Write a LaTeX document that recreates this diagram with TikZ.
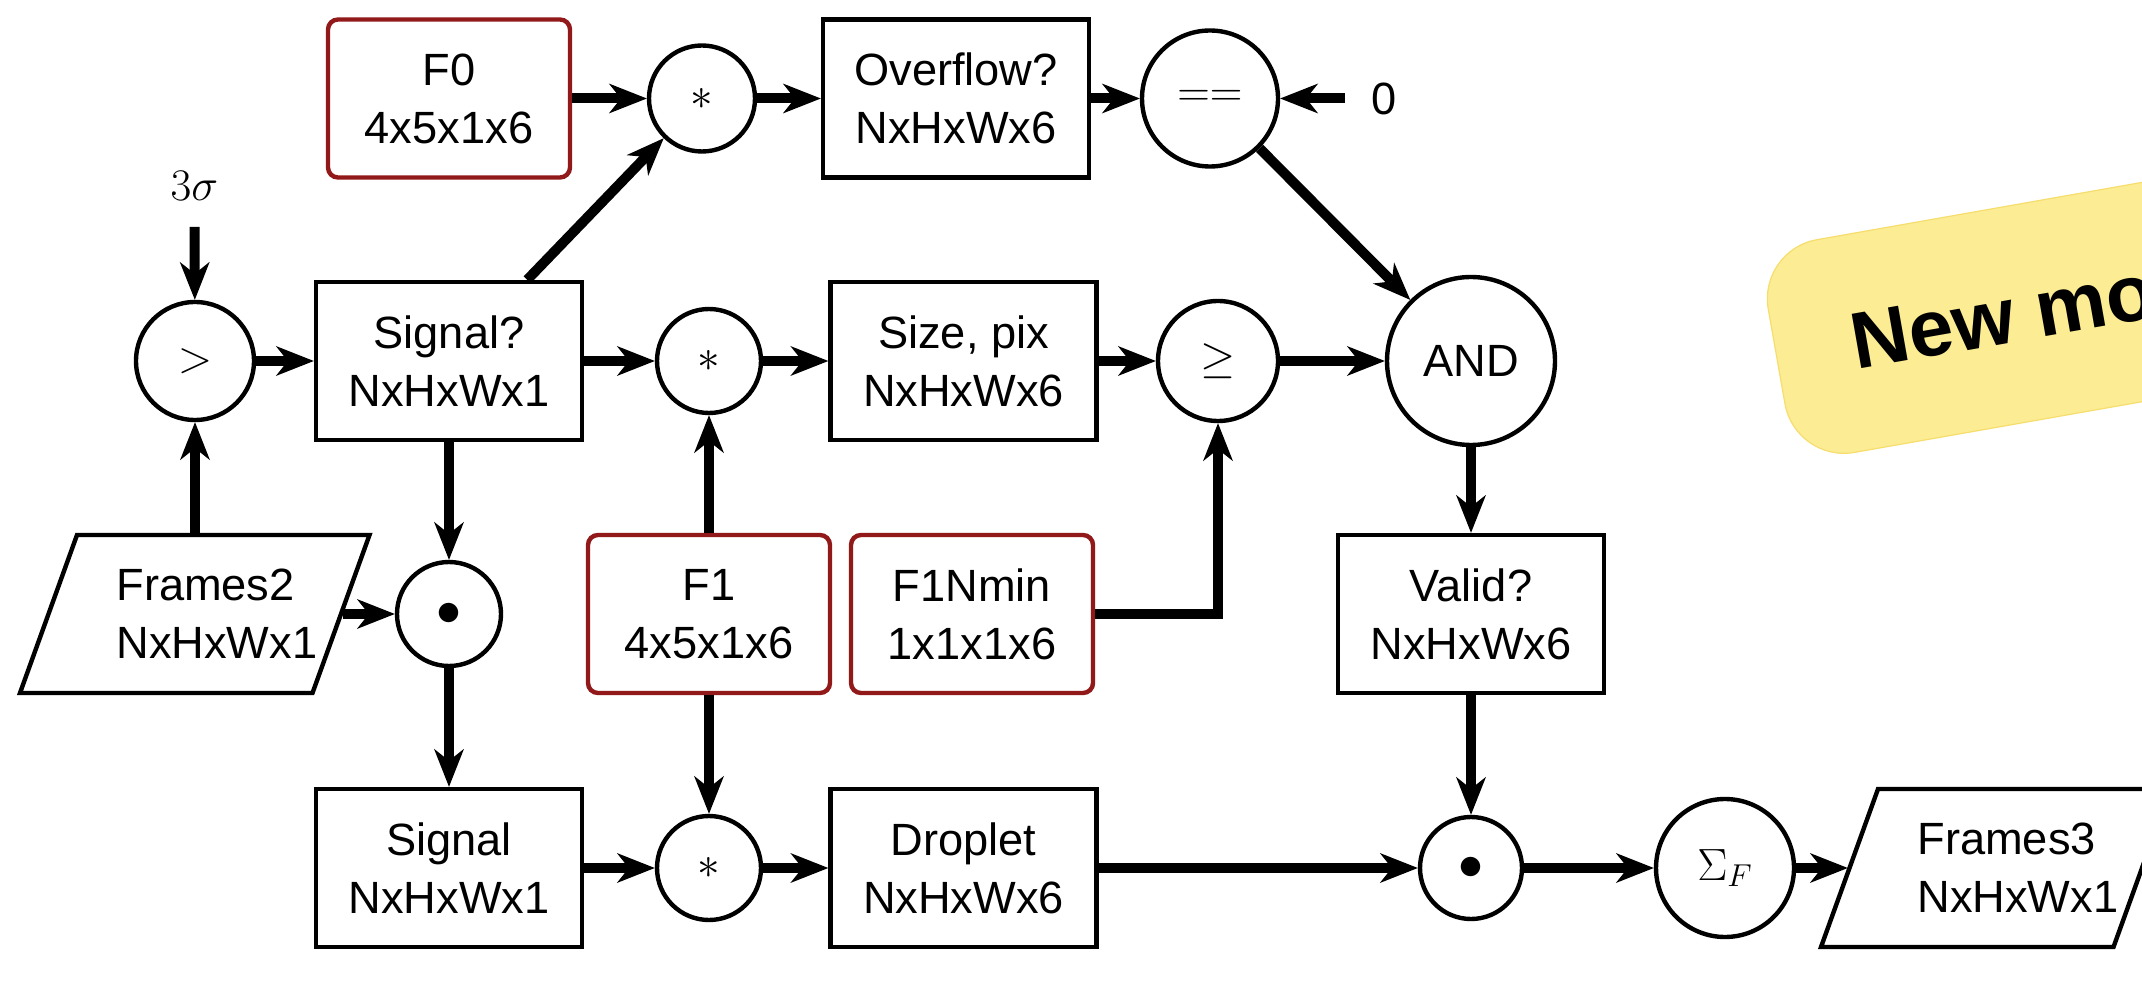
\RequirePackage{fix-cm}
\documentclass[tikz,border=0pt]{standalone}
\usepackage[no-math]{fontspec}
\newfontfamily\hv{Liberation Sans}
\usetikzlibrary{arrows.meta}
\definecolor{fred}{RGB}{145,25,25}
\definecolor{tagfill}{RGB}{252,236,148}
\definecolor{tagdraw}{RGB}{246,222,110}
\newcommand\boxfont{\hv\fontsize{22.6}{29}\selectfont}
\newcommand\mathfnt{\fontsize{22.6}{29}\selectfont}
\tikzset{
  box/.style={draw, line width=2.2pt, minimum width=133pt, minimum height=79pt,
    font=\boxfont, align=center, inner sep=0pt},
  redbox/.style={box, draw=fred, rounded corners=5pt, minimum width=121pt},
  opc/.style={circle, draw, line width=2.2pt, inner sep=0pt, font=\mathfnt},
  parabox/.style={minimum width=146pt, minimum height=79pt, inner sep=0pt, outer sep=1.1pt},
  paraline/.style={draw, line width=2.2pt, line join=miter},
  paratext/.style={anchor=west, align=left, font=\boxfont, inner sep=0pt},
  flow/.style={line width=5pt, -{Stealth[length=19pt,width=15pt,inset=6pt,line width=0pt]}},
  lbl/.style={inner sep=0pt},
  tagbox/.style={fill=tagfill, draw=tagdraw, line width=0.6pt, rounded corners=30pt, inner sep=0pt},
}
\begin{document}
\begin{tikzpicture}[x=0.5pt,y=-0.5pt]
\useasboundingbox (0,0) rectangle (2142,1005);

% tag
\node[tagbox, rotate=10, minimum width=350pt, minimum height=108pt] (tagbg) at (2121.3,295.7) {};
\node[rotate=10, anchor=base west, inner sep=0pt, font=\hv\bfseries\fontsize{40}{48}\selectfont] (tagtxt) at (1856,370) {New mo};

% row 1
\node[redbox] (f0) at (449,98.5) {F0\\4x5x1x6};
\node[opc, minimum size=53pt] (a1) at (702,98.5) {$\ast$};
\node[box] (ov) at (956,98.5) {Overflow?\\NxHxWx6};
\node[opc, minimum size=68pt] (eq) at (1210,98.5) {$==$};
\node[lbl, font=\boxfont] (zero) at (1384,98.5) {0};

% sigma label
\node[lbl, font=\mathfnt] (s3) at (194.5,186) {$3\sigma$};

% row 2
\node[opc, minimum size=59pt] (gt) at (195,361) {$>$};
\node[box] (sq) at (449,361) {Signal?\\NxHxWx1};
\node[opc, minimum size=52pt] (a2) at (709,361) {$\ast$};
\node[box] (sz) at (963.5,361) {Size, pix\\NxHxWx6};
\node[opc, minimum size=60pt] (ge) at (1218,361) {$\geq$};
\node[opc, minimum size=84pt, font=\boxfont] (and) at (1471,361) {AND};

% row 3
\node[parabox] (fr2) at (195,614) {};
\draw[paraline, shift={(fr2.center)}] (-175,79) -- (117.5,79) -- (174.5,-79) -- (-118,-79) -- cycle;
\node[paratext] (fr2t) at (116,614) {Frames2\\NxHxWx1};
\node[opc, minimum size=52pt, font=\fontsize{25}{29}\selectfont] (od1) at (449,614) {$\bullet$};
\node[redbox] (f1) at (709,614) {F1\\4x5x1x6};
\node[redbox] (f1n) at (972,614) {F1Nmin\\1x1x1x6};
\node[box] (val) at (1471,614) {Valid?\\NxHxWx6};

% row 4
\node[box] (sg) at (449,868) {Signal\\NxHxWx1};
\node[opc, minimum size=52pt] (a3) at (709,868) {$\ast$};
\node[box] (dr) at (963.5,868) {Droplet\\NxHxWx6};
\node[opc, minimum size=51pt, font=\fontsize{25}{29}\selectfont] (od2) at (1471,868) {$\bullet$};
\node[opc, minimum size=69pt] (sig) at (1725,868) {$\Sigma_F$};
\node[parabox] (fr3) at (1996,868) {};
\draw[paraline, shift={(fr3.center)}] (-175,79) -- (117.5,79) -- (174.5,-79) -- (-118,-79) -- cycle;
\node[paratext] (fr3t) at (1917,868) {Frames3\\NxHxWx1};

% connectors
\draw[flow, shorten <=13pt] (s3) -- (gt);
\draw[flow] (fr2) -- (gt);
\draw[flow] (fr2) -- (od1);
\draw[flow] (gt) -- (sq);
\draw[flow] (sq) -- (a2);
\draw[flow] (sq) -- (a1);
\draw[flow] (f0) -- (a1);
\draw[flow] (a1) -- (ov);
\draw[flow] (ov) -- (eq);
\draw[flow, shorten <=13pt] (zero) -- (eq);
\draw[flow] (eq) -- (and);
\draw[flow] (a2) -- (sz);
\draw[flow] (sz) -- (ge);
\draw[flow] (ge) -- (and);
\draw[flow] (and) -- (val);
\draw[flow] (val) -- (od2);
\draw[flow] (sq) -- (od1);
\draw[flow] (od1) -- (sg);
\draw[flow] (f1) -- (a2);
\draw[flow] (f1) -- (a3);
\draw[flow] (f1n) -| (ge);
\draw[flow] (sg) -- (a3);
\draw[flow] (a3) -- (dr);
\draw[flow] (dr) -- (od2);
\draw[flow] (od2) -- (sig);
\draw[flow] (sig) -- (fr3);
\end{tikzpicture}
\end{document}
